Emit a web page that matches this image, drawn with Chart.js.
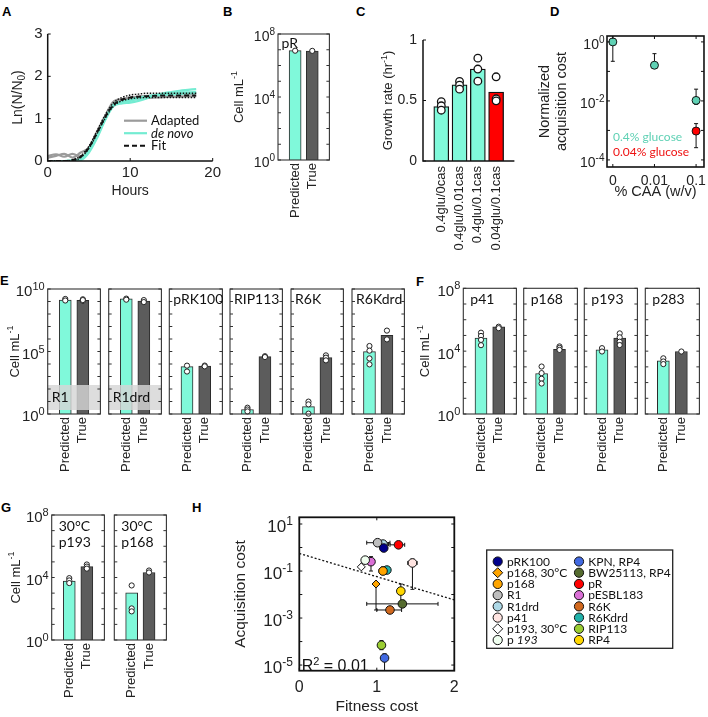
<!DOCTYPE html>
<html lang="en">
<head>
  <meta charset="UTF-8" />
  <title>Plasmid acquisition cost</title>
  <script src="https://cdn.jsdelivr.net/npm/chart.js"></script>
  <style>
    html, body { margin: 0; background: #fff; }
    body { position: relative; width: 708px; height: 717px; overflow: hidden; }
    canvas { position: absolute; }
    .tag { position: absolute; font: bold 13px 'Liberation Sans', Arial, sans-serif; color: #000; }
  </style>
</head>
<body>
  <div class="tag" style="left:2px;top:4px">A</div>
  <div class="tag" style="left:223px;top:4px">B</div>
  <div class="tag" style="left:356px;top:4px">C</div>
  <div class="tag" style="left:550px;top:4px">D</div>
  <div class="tag" style="left:0px;top:273px">E</div>
  <div class="tag" style="left:416px;top:274px">F</div>
  <div class="tag" style="left:1px;top:500px">G</div>
  <div class="tag" style="left:192px;top:500px">H</div>

  <script>
    // ---------- data ----------
    // A: growth curves, ln(N/N0) against time
    const hours = [0, 1, 2, 3, 4, 5, 6, 7, 8, 9, 10, 11, 12, 13, 14, 15, 16, 17, 18];
    const adapted1 = [0.12, 0.16, 0.1, 0.17, 0.1, 0.26, 0.64, 1.04, 1.38, 1.42, 1.45, 1.47, 1.49, 1.5, 1.51, 1.52, 1.52, 1.53, 1.53];
    const adapted2 = [0.08, 0.12, 0.17, 0.08, 0.2, 0.32, 0.7, 1.08, 1.41, 1.46, 1.5, 1.52, 1.54, 1.55, 1.56, 1.57, 1.58, 1.58, 1.6];
    const deNovo1 = [0, 0, 0, 0, 0.02, 0.2, 0.55, 0.98, 1.3, 1.36, 1.38, 1.42, 1.48, 1.55, 1.6, 1.63, 1.66, 1.68, 1.7];
    const deNovo2 = [0, 0, 0, 0.02, 0.05, 0.28, 0.62, 1.02, 1.32, 1.38, 1.42, 1.48, 1.52, 1.55, 1.58, 1.6, 1.62, 1.62, 1.63];
    const deNovo3 = [0, 0, 0, 0, 0.05, 0.25, 0.6, 1.0, 1.34, 1.4, 1.45, 1.5, 1.53, 1.55, 1.56, 1.57, 1.58, 1.6, 1.6];
    const fitMain = [0, 0, 0, 0.02, 0.1, 0.32, 0.68, 1.05, 1.33, 1.45, 1.5, 1.52, 1.53, 1.54, 1.55, 1.55, 1.55, 1.55, 1.55];
    const fitAlt1 = [0, 0, 0, 0.03, 0.12, 0.35, 0.72, 1.1, 1.38, 1.5, 1.56, 1.58, 1.6, 1.6, 1.6, 1.6, 1.6, 1.6, 1.6];
    const fitAlt2 = [0, 0, 0, 0.01, 0.08, 0.3, 0.65, 1.02, 1.3, 1.42, 1.47, 1.49, 1.5, 1.5, 1.5, 1.5, 1.5, 1.5, 1.5];

    // B: cells per mL, predicted vs true
    const plasmidsB = ['pR'];
    const predB = [8.7e6];
    const trueB = [8.3e6];
    const predPtsB = [[8.7e6]];
    const truePtsB = [[8.5e6]];

    // C: growth rate per medium
    const mediaC = ['0.4glu/0cas', '0.4glu/0.01cas', '0.4glu/0.1cas', '0.04glu/0.1cas'];
    const growthC = [0.45, 0.63, 0.76, 0.57];
    const growthRepsC = [[0.49, 0.456, 0.42], [0.657, 0.627, 0.594], [0.85, 0.76, 0.66], [0.696, 0.514, 0.497]];

    // D: normalized acquisition cost against % CAA
    const caaLevels = ['0', '0.01', '0.1'];
    const costHiGlu = [1.0, 0.162, 0.0104];
    const costHiGluLow = [0.22, 0.162, 0.0076];
    const costHiGluHigh = [1.8, 0.4, 0.025];
    const caaLoGlu = ['0.1'];
    const costLoGlu = [0.00095];
    const costLoGluLow = [0.00026];
    const costLoGluHigh = [0.0017];

    // E: cells per mL
    const plasmidsE = ['R1', 'R1drd', 'pRK100', 'RIP113', 'R6K', 'R6Kdrd'];
    const predE = [1.3e9, 1.6e9, 6.2e3, 2.3, 3.9, 9.8e4];
    const trueE = [1.25e9, 1.1e9, 6.9e3, 3.9e4, 3.2e4, 1.95e6];
    const predPtsE = [[1.6e9, 1.2e9], [1.7e9, 1.4e9], [7.4e3, 2.5e3], [3.2, 2.3, 1.6], [9.8, 5.9, 1.07], [2.75e5, 1.17e5, 2.8e4, 9.3e3]];
    const truePtsE = [[1.5e9, 1.1e9, 1.3e9], [1.3e9, 0.9e9], [7.5e3, 6.5e3], [4.2e4, 3.6e4], [4.9e4, 3.2e4, 1.95e4], [4.7e6, 9.3e5]];

    // F: cells per mL
    const plasmidsF = ['p41', 'p168', 'p193', 'p283'];
    const predF = [6.8e4, 380, 1.2e4, 2.4e3];
    const trueF = [3.5e5, 1.3e4, 6.8e4, 9.5e3];
    const predPtsF = [[1.5e5, 9.3e4, 5.2e4, 2.4e4], [1050, 400, 175, 87], [1.55e4, 9.5e3], [3.5e3, 2.2e3, 1.5e3]];
    const truePtsF = [[3.6e5, 2.9e5], [2.0e4, 1.6e4, 1.2e4], [1.35e5, 7.6e4, 4.0e4, 2.45e4], [9.5e3]];

    // G: cells per mL at 30 C
    const tempG = '30°C';
    const plasmidsG = ['p193', 'p168'];
    const predG = [5.9e3, 1.05e3];
    const trueG = [5.0e4, 2.1e4];
    const predPtsG = [[9.1e3, 6.5e3, 4.4e3], [3.1e3, 105, 68]];
    const truePtsG = [[6.8e4, 5.0e4, 3.7e4], [2.8e4, 2.1e4]];

    // H: acquisition cost against fitness cost
    const plasmidsH = ['pRK100', 'p168, 30°C', 'p168', 'R1', 'R1drd', 'p41', 'p193, 30°C', 'p 193',
                       'KPN, RP4', 'BW25113, RP4', 'pR', 'pESBL183', 'R6K', 'R6Kdrd', 'RIP113', 'RP4'];
    const fitnessH = [1.09, 0.99, 1.08, 1.01, 1.08, 1.46, 0.80, 0.85, 1.10, 1.33, 1.28, 0.925, 1.17, 1.13, 1.06, 1.31];
    const fitnessLoH = [1.05, 0.97, 1.03, 0.87, 1.0, 1.40, 0.78, 0.82, 1.08, 0.87, 1.17, 0.87, 1.0, 1.10, 1.02, 1.29];
    const fitnessHiH = [1.13, 1.01, 1.13, 1.17, 1.15, 1.52, 0.82, 0.88, 1.12, 1.79, 1.36, 0.97, 1.32, 1.16, 1.10, 1.33];
    const acquisitionH = [0.95, 0.028, 0.10, 1.6, 1.4, 0.22, 0.15, 0.29, 2e-5, 0.004, 1.3, 0.25, 0.0022, 0.11, 7e-5, 0.014];
    const acquisitionLoH = [0.75, 0.0022, 0.07, 1.6, 1.4, 0.0166, 0.15, 0.29, 5e-6, 0.004, 1.3, 0.1, 0.0022, 0.11, 4.5e-5, 0.004];
    const acquisitionHiH = [1.2, 0.035, 0.15, 1.6, 1.4, 0.32, 0.15, 0.29, 3e-5, 0.004, 1.3, 0.41, 0.0022, 0.11, 1.1e-4, 0.028];
    const fitLineX = [0, 2];
    const fitLineY = [0.56, 0.0059];
    const r2H = 0.01;

    // ---------- styles ----------
    const FONT = "'Liberation Sans', Arial, sans-serif";
    const SANS2 = "Lato, 'Liberation Sans', sans-serif";
    const CYAN = '#80f9da';
    const DARK = '#5c5c5c';
    const AQUA = '#74ecd2';
    const TEAL = '#5fd1b4';
    const RED = '#ff0000';
    const colorsH = ['#00008b', '#ffa500', '#ffa500', '#bebebe', '#add8e6', '#ffe4e1', '#ffffff', '#f0fff0',
                     '#4169e1', '#556b2f', '#ff0000', '#da70d6', '#d2691e', '#20b2aa', '#9acd32', '#ffd700'];
    const shapesH = ['circle', 'rectRot', 'circle', 'circle', 'circle', 'circle', 'rectRot', 'circle',
                     'circle', 'circle', 'circle', 'circle', 'circle', 'circle', 'circle', 'circle'];

    Chart.defaults.font.family = FONT;
    Chart.defaults.color = '#222';
    Chart.defaults.animation = false;
    Chart.defaults.responsive = false;
    Chart.defaults.plugins.legend.display = false;
    Chart.defaults.plugins.tooltip.enabled = false;

    // ---------- helpers ----------
    function canvasAt(left, top, w, h) {
      const c = document.createElement('canvas');
      c.width = w; c.height = h;
      c.style.left = left + 'px'; c.style.top = top + 'px';
      c.style.width = w + 'px'; c.style.height = h + 'px';
      document.body.appendChild(c);
      return c.getContext('2d');
    }
    const decades = (lo, hi) => { const t = []; for (let e = lo; e <= hi; e++) t.push({value: Math.pow(10, e)}); return t; };
    const fixedTicks = vals => s => { s.ticks = vals.map(v => ({value: v})); };
    const noGrid = {display: false, drawTicks: false};
    const noBorder = {display: false};

    function seg(ctx, x1, y1, x2, y2) {
      ctx.beginPath(); ctx.moveTo(x1, y1); ctx.lineTo(x2, y2); ctx.stroke();
    }

    // text with superscript (1), subscript (-1) or italic (2) parts
    function drawRich(ctx, parts, x, y, size, opt = {}) {
      const fam = opt.family || FONT;
      const small = Math.round(size * 0.7);
      const fontOf = k => (k === 2 ? 'italic ' : '') + (k === 1 || k === -1 ? small : size) + 'px ' + fam;
      ctx.save();
      ctx.translate(x, y);
      if (opt.rotate) ctx.rotate(opt.rotate);
      ctx.fillStyle = opt.color || '#222';
      ctx.textAlign = 'left';
      ctx.textBaseline = 'alphabetic';
      const widths = parts.map(([t, k]) => { ctx.font = fontOf(k); return ctx.measureText(t).width; });
      const total = widths.reduce((s, w) => s + w, 0);
      let cx = opt.align === 'left' ? 0 : opt.align === 'right' ? -total : -total / 2;
      const base = size * 0.36;
      parts.forEach(([t, k], i) => {
        ctx.font = fontOf(k);
        const dy = k === 1 ? -size * 0.42 : k === -1 ? size * 0.22 : 0;
        ctx.fillText(t, cx, base + dy);
        cx += widths[i];
      });
      ctx.restore();
    }

    function marker(ctx, style, x, y, r, fill) {
      ctx.beginPath();
      if (style === 'rectRot') {
        ctx.moveTo(x, y - r); ctx.lineTo(x + r, y); ctx.lineTo(x, y + r); ctx.lineTo(x - r, y); ctx.closePath();
      } else {
        ctx.arc(x, y, r, 0, Math.PI * 2);
      }
      ctx.fillStyle = fill; ctx.fill();
      ctx.strokeStyle = '#111'; ctx.lineWidth = 1; ctx.stroke();
    }

    // frames, inner ticks, log tick labels, rich titles, error bars, legends
    const deco = {
      id: 'deco',
      beforeDatasetsDraw(chart) {
        const {ctx, chartArea: a, scales: {x: xs, y: ys}} = chart;
        ctx.save();
        ctx.beginPath(); ctx.rect(a.left, a.top, a.width, a.height); ctx.clip();
        ctx.strokeStyle = '#111'; ctx.lineWidth = 1;
        chart.data.datasets.forEach(ds => {
          if (!ds.errY && !ds.errX) return;
          ds.data.forEach((p, i) => {
            const px = xs.getPixelForValue(p.x), py = ys.getPixelForValue(p.y);
            if (ds.errY) {
              const y1 = ys.getPixelForValue(ds.errY[i][0]), y2 = ys.getPixelForValue(ds.errY[i][1]);
              seg(ctx, px, y1, px, y2);
              if (Math.abs(y1 - py) > 1) seg(ctx, px - 2, y1, px + 2, y1);
              if (Math.abs(y2 - py) > 1) seg(ctx, px - 2, y2, px + 2, y2);
            }
            if (ds.errX) {
              const x1 = xs.getPixelForValue(ds.errX[i][0]), x2 = xs.getPixelForValue(ds.errX[i][1]);
              seg(ctx, x1, py, x2, py);
              if (Math.abs(x1 - px) > 1) seg(ctx, x1, py - 2, x1, py + 2);
              if (Math.abs(x2 - px) > 1) seg(ctx, x2, py - 2, x2, py + 2);
            }
          });
        });
        ctx.restore();
      },
      afterDatasetsDraw(chart, args, o) {
        const {ctx, chartArea: a, scales: {x: xs, y: ys}} = chart;
        ctx.save();
        if (o.band) {
          ctx.fillStyle = 'rgba(214,214,214,0.82)';
          ctx.fillRect(a.left, a.bottom - o.band.bottom - o.band.height, a.width, o.band.height);
        }
        ctx.strokeStyle = o.color || '#222';
        ctx.lineWidth = o.lineWidth || 1.2;
        if (o.frame === 'box') ctx.strokeRect(a.left, a.top, a.width, a.height);
        if (o.frame === 'axes') {
          ctx.beginPath(); ctx.moveTo(a.left, a.top); ctx.lineTo(a.left, a.bottom); ctx.lineTo(a.right, a.bottom); ctx.stroke();
        }
        const tl = o.tickLen || 3;
        ctx.lineWidth = 1;
        if (o.yTicks) ys.ticks.forEach(t => {
          const y = ys.getPixelForValue(t.value);
          seg(ctx, a.left, y, a.left + tl, y);
          if (o.frame === 'box') seg(ctx, a.right, y, a.right - tl, y);
        });
        if (o.xTicks) xs.ticks.forEach(t => {
          const x = xs.getPixelForValue(t.value);
          seg(ctx, x, a.bottom, x, a.bottom - tl);
          if (o.frame === 'box') seg(ctx, x, a.top, x, a.top + tl);
        });
        if (o.supY) o.supY.values.forEach(v => {
          const e = Math.round(Math.log10(v));
          drawRich(ctx, [['10', 0], [String(e), 1]], a.left - o.supY.pad, ys.getPixelForValue(v) + 2, o.supY.size, {align: 'right'});
        });
        if (o.yTitle) drawRich(ctx, o.yTitle.parts, o.yTitle.x, (a.top + a.bottom) / 2, o.yTitle.size, {rotate: -Math.PI / 2});
        (o.texts || []).forEach(t => drawRich(ctx, t.parts, a.left + t.dx, (t.from === 'bottom' ? a.bottom : a.top) + t.dy, t.size,
          {align: 'left', color: t.color || '#111', family: t.family}));
        if (o.lineLegend) {
          const L = o.lineLegend;
          L.items.forEach((it, i) => {
            const ds = chart.data.datasets[it.ds];
            const x = a.left + L.dx, y = a.top + L.dy + i * L.gap;
            ctx.save();
            ctx.strokeStyle = ds.borderColor; ctx.lineWidth = ds.borderWidth; ctx.setLineDash(ds.borderDash || []);
            seg(ctx, x, y, x + L.len, y);
            ctx.restore();
            drawRich(ctx, it.parts, x + L.len + 4, y, L.size, {align: 'left', family: SANS2, color: '#111'});
          });
        }
        if (o.pointLegend) {
          const P = o.pointLegend;
          ctx.lineWidth = 1.3; ctx.strokeStyle = '#222';
          ctx.strokeRect(P.box[0], P.box[1], P.box[2], P.box[3]);
          chart.data.datasets.filter(ds => ds.inLegend).forEach((ds, i) => {
            const col = Math.floor(i / P.perCol), row = i % P.perCol;
            const x = P.cols[col], y = P.y0 + row * P.rowH;
            marker(ctx, ds.pointStyle, x, y, ds.pointStyle === 'rectRot' ? 5 : 4.6, ds.backgroundColor);
            const m = /^p (\d+)$/.exec(ds.label);
            const parts = m ? [['p ', 0], [m[1], 2]] : [[ds.label, 0]];
            drawRich(ctx, parts, x + P.textGap, y, P.size, {align: 'left', family: SANS2, color: '#111'});
          });
        }
        ctx.restore();
      }
    };
    Chart.register(deco);

    // one boxed "Predicted / True" panel on a log axis
    function cellPanel(o) {
      const [L, T, R, B] = o.box;
      const yW = o.yW || 0;
      const left = Math.floor(L - (yW || 14));
      const top = Math.floor(T - 14);
      const xH = 62;
      const w = Math.ceil(R + 14) - left;
      const h = Math.round(B - top) + xH;
      const texts = o.label.map((t, i) => ({
        parts: [[t, 0]], dx: o.labelDx, family: SANS2, size: 14,
        from: o.labelAt === 'bottom' ? 'bottom' : 'top',
        dy: o.labelAt === 'bottom' ? -17.3 : o.labelDy + i * 15.7
      }));
      const pts = o.predPts.map(v => ({x: 'Predicted', y: v})).concat(o.truePts.map(v => ({x: 'True', y: v})));
      return new Chart(canvasAt(left, top, w, h), {
        type: 'bar',
        data: {
          labels: ['', 'Predicted', 'True', ''],
          datasets: [
            {data: [null, o.pred, o.tru, null], backgroundColor: [null, CYAN, DARK, null], borderColor: '#2b2b2b',
             borderWidth: 1, barThickness: 12, order: 2},
            {type: 'line', showLine: false, data: pts, pointRadius: 2.6, pointBackgroundColor: '#fff',
             pointBorderColor: '#222', pointBorderWidth: 1, clip: false, order: 1}
          ]
        },
        options: {
          layout: {padding: {left: yW ? 0 : L - left, top: T - top, right: left + w - R, bottom: 0}},
          scales: {
            x: {type: 'category', offset: false, grid: noGrid, border: noBorder,
                ticks: {autoSkip: false, minRotation: 90, maxRotation: 90, padding: 3, font: {size: 13}},
                afterFit: s => { s.height = xH; }},
            y: {type: 'logarithmic', min: 1, max: Math.pow(10, o.yMax), grid: noGrid, border: noBorder,
                ticks: {display: false}, afterBuildTicks: s => { s.ticks = decades(0, o.yMax); },
                afterFit: s => { s.width = yW ? L - left : 0; }}
          },
          plugins: {
            deco: {
              frame: 'box', lineWidth: 1.1, color: '#333', yTicks: true, tickLen: 3,
              supY: yW ? {values: o.supVals, size: o.supSize, pad: 3} : null,
              yTitle: yW ? {parts: [['Cell mL', 0], ['-1', 1]], x: o.titlePage - left, size: 13} : null,
              band: o.band ? {bottom: 4, height: 25} : null,
              texts
            }
          }
        }
      });
    }

    // ---------- A ----------
    const lineSet = (vals, color, width, dash, order) => ({
      data: hours.map((h, i) => ({x: h, y: vals[i]})), borderColor: color, borderWidth: width,
      borderDash: dash || [], pointRadius: 0, cubicInterpolationMode: 'monotone', order
    });
    new Chart(canvasAt(0, 20, 225, 183), {
      type: 'line',
      data: {datasets: [
        lineSet(fitMain, '#111', 2, [5, 3], 0),
        lineSet(fitAlt1, '#111', 1.4, [1.5, 1.5], 1),
        lineSet(fitAlt2, '#111', 1.4, [1.5, 1.5], 1),
        lineSet(deNovo1, AQUA, 2.2, null, 2),
        lineSet(deNovo2, AQUA, 2.2, null, 2),
        lineSet(deNovo3, AQUA, 2.2, null, 2),
        lineSet(adapted1, '#9b9b9b', 2.2, null, 3),
        lineSet(adapted2, '#9b9b9b', 2.2, null, 3)
      ]},
      options: {
        layout: {padding: {left: 0, top: 14, right: 12.3, bottom: 0}},
        scales: {
          x: {type: 'linear', min: 0, max: 20, grid: noGrid, border: noBorder, afterBuildTicks: fixedTicks([0, 10, 20]),
              ticks: {font: {size: 15}, padding: 3},
              title: {display: true, text: 'Hours', font: {size: 14}, padding: {top: 0, bottom: 3}},
              afterFit: s => { s.height = 42; }},
          y: {type: 'linear', min: 0, max: 3, grid: noGrid, border: noBorder, afterBuildTicks: fixedTicks([0, 1, 2, 3]),
              ticks: {font: {size: 15}, padding: 5}, afterFit: s => { s.width = 47.7; }}
        },
        plugins: {deco: {
          frame: 'axes', lineWidth: 1.5, color: '#111', yTicks: true, xTicks: true,
          yTitle: {parts: [['Ln(N/N', 0], ['0', -1], [')', 0]], x: 16.5, size: 14},
          lineLegend: {dx: 76.3, dy: 86.7, gap: 12.5, len: 23, size: 13, items: [
            {ds: 6, parts: [['Adapted', 0]]}, {ds: 3, parts: [['de novo', 2]]}, {ds: 0, parts: [['Fit', 0]]}
          ]}
        }}
      }
    });

    // ---------- B ----------
    plasmidsB.forEach((name, i) => cellPanel({
      box: [278, 34, 334, 160], yMax: 8, yW: 53, supVals: [1, 1e4, 1e8], supSize: 14, titlePage: 238,
      label: [name], labelDx: 3.5, labelDy: 9,
      pred: predB[i], tru: trueB[i], predPts: predPtsB[i], truePts: truePtsB[i]
    }));

    // ---------- C ----------
    new Chart(canvasAt(345, 20, 190, 251), {
      type: 'bar',
      data: {
        labels: ['', ...mediaC, ''],
        datasets: [
          {data: [null, ...growthC, null], backgroundColor: [null, CYAN, CYAN, CYAN, RED, null], borderColor: '#111',
           borderWidth: 1.3, barThickness: 15, order: 2},
          {type: 'line', showLine: false, data: growthRepsC.flatMap((r, i) => r.map(v => ({x: mediaC[i], y: v}))),
           pointRadius: 3.8, pointBackgroundColor: '#fff', pointBorderColor: '#111', pointBorderWidth: 1.3, clip: false, order: 1}
        ]
      },
      options: {
        layout: {padding: {left: 0, top: 20, right: 10, bottom: 0}},
        scales: {
          x: {type: 'category', offset: false, grid: noGrid, border: noBorder,
              ticks: {autoSkip: false, minRotation: 90, maxRotation: 90, padding: 5, font: {size: 13}},
              afterFit: s => { s.height = 110; }},
          y: {type: 'linear', min: 0, max: 1, grid: noGrid, border: noBorder, afterBuildTicks: fixedTicks([0, 0.5, 1]),
              ticks: {font: {size: 14}, padding: 6, callback: v => String(v)}, afterFit: s => { s.width = 78; }}
        },
        plugins: {deco: {
          frame: 'axes', lineWidth: 1.5, color: '#111', yTicks: true,
          yTitle: {parts: [['Growth rate (hr', 0], ['-1', 1], [')', 0]], x: 42.5, size: 13}
        }}
      }
    });

    // ---------- D ----------
    new Chart(canvasAt(530, 20, 182, 182), {
      type: 'scatter',
      data: {datasets: [
        {label: '0.4% glucose', data: costHiGlu.map((v, i) => ({x: i, y: v})),
         errY: costHiGlu.map((v, i) => [costHiGluLow[i], costHiGluHigh[i]]),
         backgroundColor: TEAL, borderColor: '#111', borderWidth: 1, pointRadius: 4, clip: false},
        {label: '0.04% glucose', data: costLoGlu.map((v, i) => ({x: caaLevels.indexOf(caaLoGlu[i]), y: v})),
         errY: costLoGlu.map((v, i) => [costLoGluLow[i], costLoGluHigh[i]]),
         backgroundColor: RED, borderColor: '#111', borderWidth: 1, pointRadius: 4, clip: false}
      ]},
      options: {
        layout: {padding: {left: 0, top: 16, right: 6, bottom: 0}},
        scales: {
          x: {type: 'linear', min: -0.14, max: 2.19, grid: noGrid, border: noBorder, afterBuildTicks: fixedTicks([0, 1, 2]),
              ticks: {callback: v => caaLevels[v], font: {size: 14}, padding: 5.7},
              title: {display: true, text: '% CAA (w/v)', font: {size: 14.5}, padding: {top: 0, bottom: 1.2}},
              afterFit: s => { s.height = 35; }},
          y: {type: 'logarithmic', min: Math.pow(10, -4.24), max: Math.pow(10, 0.2), grid: noGrid, border: noBorder,
              ticks: {display: false}, afterBuildTicks: s => { s.ticks = decades(-4, 0); },
              title: {display: true, text: ['Normalized', 'acquisition cost'], font: {size: 14.5, lineHeight: 1.15}, padding: {top: 6.7, bottom: 0}},
              afterFit: s => { s.width = 77; }}
        },
        plugins: {deco: {
          frame: 'box', lineWidth: 1.6, color: '#111', yTicks: true, xTicks: true,
          supY: {values: [1, 1e-2, 1e-4], size: 14, pad: 2.5},
          texts: [
            {parts: [['0.4% glucose', 0]], dx: 6, dy: -30.3, from: 'bottom', size: 12, color: TEAL, family: SANS2},
            {parts: [['0.04% glucose', 0]], dx: 6, dy: -15.3, from: 'bottom', size: 12, color: '#ee1111', family: SANS2}
          ]
        }}
      }
    });

    // ---------- E ----------
    const boxesE = [[47.7, 289, 104.3, 414], [108.7, 289, 165.3, 414], [169.3, 289, 226.3, 414],
                    [230, 289, 287, 414], [291, 289, 348, 414], [352, 289, 409, 414]];
    plasmidsE.forEach((name, i) => cellPanel({
      box: boxesE[i], yMax: 10, yW: i === 0 ? 47.7 : 0, supVals: [1, 1e5, 1e10], supSize: 15, titlePage: 14,
      label: [name], labelAt: i < 2 ? 'bottom' : 'top', band: i < 2, labelDx: 4, labelDy: 10,
      pred: predE[i], tru: trueE[i], predPts: predPtsE[i], truePts: truePtsE[i]
    }));

    // ---------- F ----------
    const boxesF = [[463.3, 288.3, 520.7, 414.3], [523.7, 288.3, 581.3, 414.3], [584.3, 288.3, 641.7, 414.3], [645.3, 288.3, 703.3, 414.3]];
    plasmidsF.forEach((name, i) => cellPanel({
      box: boxesF[i], yMax: 8, yW: i === 0 ? 53.3 : 0, supVals: [1, 1e4, 1e8], supSize: 15, titlePage: 424,
      label: [name], labelDx: 7, labelDy: 11,
      pred: predF[i], tru: trueF[i], predPts: predPtsF[i], truePts: truePtsF[i]
    }));

    // ---------- G ----------
    const boxesG = [[51.7, 515, 109, 640.3], [114.3, 515, 171, 640.3]];
    plasmidsG.forEach((name, i) => cellPanel({
      box: boxesG[i], yMax: 8, yW: i === 0 ? 51.7 : 0, supVals: [1, 1e4, 1e8], supSize: 15, titlePage: 15,
      label: [tempG, name], labelDx: 7, labelDy: 11,
      pred: predG[i], tru: trueG[i], predPts: predPtsG[i], truePts: truePtsG[i]
    }));

    // ---------- H ----------
    const datasetsH = plasmidsH.map((name, i) => ({
      label: name, inLegend: true,
      data: [{x: fitnessH[i], y: acquisitionH[i]}],
      errX: [[fitnessLoH[i], fitnessHiH[i]]], errY: [[acquisitionLoH[i], acquisitionHiH[i]]],
      backgroundColor: colorsH[i], borderColor: '#111', borderWidth: 1,
      pointStyle: shapesH[i], pointRadius: shapesH[i] === 'rectRot' ? 4 : 4.3, clip: false, order: 1
    }));
    datasetsH.push({type: 'line', label: 'fit', data: fitLineX.map((x, i) => ({x, y: fitLineY[i]})),
      borderColor: '#111', borderWidth: 1.3, borderDash: [2, 2], pointRadius: 0, order: 5});

    new Chart(canvasAt(215, 500, 493, 217), {
      type: 'scatter',
      data: {datasets: datasetsH},
      options: {
        layout: {padding: {left: 0, top: 17.3, right: 253.7, bottom: 0}},
        scales: {
          x: {type: 'linear', min: 0, max: 2, grid: noGrid, border: noBorder, afterBuildTicks: fixedTicks([0, 1, 2]),
              ticks: {font: {size: 16}, padding: 7},
              title: {display: true, text: 'Fitness cost', font: {size: 15.5}, padding: {top: 0, bottom: 1.3}},
              afterFit: s => { s.height = 46.3; }},
          y: {type: 'logarithmic', min: Math.pow(10, -5.24), max: Math.pow(10, 1.285), grid: noGrid, border: noBorder,
              ticks: {display: false}, afterBuildTicks: s => { s.ticks = decades(-5, 1); },
              title: {display: true, text: 'Acquisition cost', font: {size: 15.5}, padding: {top: 16.7, bottom: 0}},
              afterFit: s => { s.width = 84.3; }}
        },
        plugins: {deco: {
          frame: 'box', lineWidth: 1.8, color: '#111', yTicks: true, xTicks: true,
          supY: {values: [10, 0.1, 1e-3, 1e-5], size: 17, pad: 6.5},
          texts: [{parts: [['R', 0], ['2', 1], [' = ' + r2H.toFixed(2), 0]], dx: 2.4, dy: -5, from: 'bottom', size: 16}],
          pointLegend: {box: [271.7, 50, 186, 98.3], cols: [282.7, 364], y0: 61.5, rowH: 11.22, perCol: 8, textGap: 9.3, size: 12}
        }}
      }
    });
  </script>
</body>
</html>
